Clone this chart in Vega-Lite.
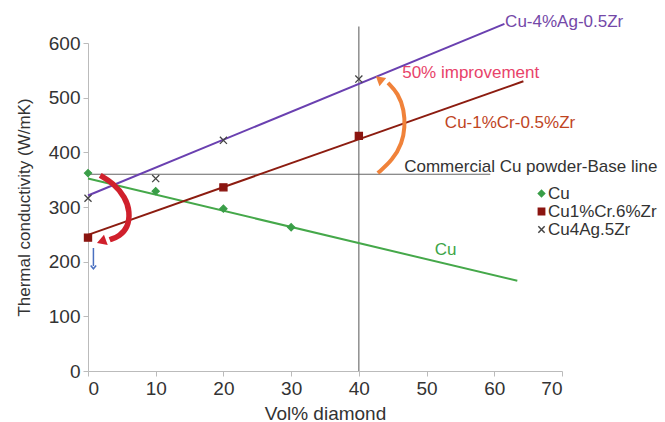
{
  "$schema": "https://vega.github.io/schema/vega-lite/v6.json",
  "width": 474,
  "height": 328,
  "autosize": "none",
  "padding": {"left": 88, "top": 43, "right": 103, "bottom": 51},
  "background": "white",
  "config": {
    "view": {"stroke": null},
    "font": "Liberation Sans",
    "axis": {
      "grid": false,
      "domainColor": "#bbbbbb",
      "tickColor": "#bbbbbb",
      "tickSize": 5,
      "labelColor": "#333333",
      "labelFontSize": 19,
      "titleColor": "#333333",
      "titleFontSize": 18,
      "titleFontWeight": "normal"
    },
    "legend": {
      "labelFontSize": 17,
      "labelColor": "#333333",
      "symbolSize": 40,
      "rowPadding": 0,
      "labelOffset": -2
    }
  },
  "datasets": {
    "points": [
      {"series": "Cu", "x": 0, "y": 362},
      {"series": "Cu", "x": 10, "y": 329},
      {"series": "Cu", "x": 20, "y": 297},
      {"series": "Cu", "x": 30, "y": 263},
      {"series": "Cu1%Cr.6%Zr", "x": 0, "y": 244},
      {"series": "Cu1%Cr.6%Zr", "x": 20, "y": 336},
      {"series": "Cu1%Cr.6%Zr", "x": 40, "y": 430},
      {"series": "Cu4Ag.5Zr", "x": 0, "y": 316},
      {"series": "Cu4Ag.5Zr", "x": 10, "y": 352},
      {"series": "Cu4Ag.5Zr", "x": 20, "y": 422},
      {"series": "Cu4Ag.5Zr", "x": 40, "y": 534}
    ],
    "trends": [
      {"series": "Cu", "x": 0, "y": 352},
      {"series": "Cu", "x": 63.4, "y": 165},
      {"series": "Cu1%Cr.6%Zr", "x": 0, "y": 249},
      {"series": "Cu1%Cr.6%Zr", "x": 64.3, "y": 530},
      {"series": "Cu4Ag.5Zr", "x": 0, "y": 321},
      {"series": "Cu4Ag.5Zr", "x": 61.5, "y": 635}
    ],
    "refs": [
      {"x": 40, "x2": 40, "y": 0, "y2": 630},
      {"x": 0, "x2": 59.4, "y": 360, "y2": 360}
    ],
    "arrows": [
      {"arrow": "orange", "o": 1, "x": 42.8, "y": 362},
      {"arrow": "orange", "o": 2, "x": 45.0, "y": 386},
      {"arrow": "orange", "o": 3, "x": 46.4, "y": 417},
      {"arrow": "orange", "o": 4, "x": 46.8, "y": 446},
      {"arrow": "orange", "o": 5, "x": 46.7, "y": 477},
      {"arrow": "orange", "o": 6, "x": 45.8, "y": 508},
      {"arrow": "orange", "o": 7, "x": 44.3, "y": 527},
      {"arrow": "red", "o": 1, "x": 1.8, "y": 358},
      {"arrow": "red", "o": 2, "x": 3.7, "y": 344},
      {"arrow": "red", "o": 3, "x": 5.5, "y": 318},
      {"arrow": "red", "o": 4, "x": 6.2, "y": 291},
      {"arrow": "red", "o": 5, "x": 5.9, "y": 263},
      {"arrow": "red", "o": 6, "x": 4.7, "y": 247},
      {"arrow": "red", "o": 7, "x": 3.2, "y": 240},
      {"arrow": "blue", "o": 1, "x": 0.8, "y": 225},
      {"arrow": "blue", "o": 2, "x": 0.8, "y": 192}
    ],
    "heads": [
      {"arrow": "orange", "x": 43.2, "y": 532},
      {"arrow": "red", "x": 2.2, "y": 238},
      {"arrow": "blue", "x": 0.8, "y": 190}
    ],
    "labels": [
      {"label": "Cu-4%Ag-0.5Zr", "x": 61.6, "y": 638},
      {"label": "50% improvement", "x": 46.4, "y": 545},
      {"label": "Cu-1%Cr-0.5%Zr", "x": 52.7, "y": 454},
      {"label": "Commercial Cu powder-Base line", "x": 46.7, "y": 373},
      {"label": "Cu", "x": 51.2, "y": 221}
    ]
  },
  "layer": [
    {
      "data": {"name": "refs"},
      "mark": {"type": "rule", "color": "#666666", "strokeWidth": 1.1},
      "encoding": {
        "x": {"field": "x", "type": "quantitative", "scale": {"domain": [0, 70], "nice": false}, "axis": {"values": [0, 10, 20, 30, 40, 50, 60, 70], "title": "Vol% diamond", "labelPadding": 3, "titlePadding": 6, "titleFontSize": 19}},
        "x2": {"field": "x2"},
        "y": {"field": "y", "type": "quantitative", "scale": {"domain": [0, 600], "nice": false}, "axis": {"values": [0, 100, 200, 300, 400, 500, 600], "title": "Thermal conductivity (W/mK)", "labelPadding": 3, "titlePadding": 15, "titleFontSize": 17}},
        "y2": {"field": "y2"}
      }
    },
    {
      "data": {"name": "trends"},
      "transform": [{"filter": "datum.series === 'Cu'"}],
      "mark": {"type": "line", "strokeWidth": 2, "color": "#45a84a"},
      "encoding": {
        "x": {"field": "x", "type": "quantitative"},
        "y": {"field": "y", "type": "quantitative"}
      }
    },
    {
      "data": {"name": "trends"},
      "transform": [{"filter": "datum.series === 'Cu1%Cr.6%Zr'"}],
      "mark": {"type": "line", "strokeWidth": 2, "color": "#8c1c10"},
      "encoding": {
        "x": {"field": "x", "type": "quantitative"},
        "y": {"field": "y", "type": "quantitative"}
      }
    },
    {
      "data": {"name": "trends"},
      "transform": [{"filter": "datum.series === 'Cu4Ag.5Zr'"}],
      "mark": {"type": "line", "strokeWidth": 2, "color": "#6a40b0"},
      "encoding": {
        "x": {"field": "x", "type": "quantitative"},
        "y": {"field": "y", "type": "quantitative"}
      }
    },
    {
      "data": {"name": "arrows"},
      "transform": [{"filter": "datum.arrow === 'orange'"}],
      "mark": {"type": "line", "interpolate": "basis", "strokeWidth": 4, "color": "#f0823a"},
      "encoding": {
        "x": {"field": "x", "type": "quantitative"},
        "y": {"field": "y", "type": "quantitative"},
        "order": {"field": "o"}
      }
    },
    {
      "data": {"name": "arrows"},
      "transform": [{"filter": "datum.arrow === 'red'"}],
      "mark": {"type": "line", "interpolate": "basis", "strokeWidth": 5.5, "color": "#d0202c"},
      "encoding": {
        "x": {"field": "x", "type": "quantitative"},
        "y": {"field": "y", "type": "quantitative"},
        "order": {"field": "o"}
      }
    },
    {
      "data": {"name": "arrows"},
      "transform": [{"filter": "datum.arrow === 'blue'"}],
      "mark": {"type": "line", "strokeWidth": 1.5, "color": "#4a70c0"},
      "encoding": {
        "x": {"field": "x", "type": "quantitative"},
        "y": {"field": "y", "type": "quantitative"},
        "order": {"field": "o"}
      }
    },
    {
      "data": {"name": "heads"},
      "transform": [{"filter": "datum.arrow === 'orange'"}],
      "mark": {"type": "point", "shape": "triangle", "filled": true, "opacity": 1, "size": 110, "angle": -50, "color": "#f0823a"},
      "encoding": {
        "x": {"field": "x", "type": "quantitative"},
        "y": {"field": "y", "type": "quantitative"}
      }
    },
    {
      "data": {"name": "heads"},
      "transform": [{"filter": "datum.arrow === 'red'"}],
      "mark": {"type": "point", "shape": "triangle", "filled": true, "opacity": 1, "size": 120, "angle": -110, "color": "#d0202c"},
      "encoding": {
        "x": {"field": "x", "type": "quantitative"},
        "y": {"field": "y", "type": "quantitative"}
      }
    },
    {
      "data": {"name": "heads"},
      "transform": [{"filter": "datum.arrow === 'blue'"}],
      "mark": {"type": "point", "shape": "M-1,-0.6L0,0.6L1,-0.6", "filled": false, "opacity": 1, "size": 30, "strokeWidth": 1.5, "color": "#4a70c0"},
      "encoding": {
        "x": {"field": "x", "type": "quantitative"},
        "y": {"field": "y", "type": "quantitative"}
      }
    },
    {
      "data": {"name": "points"},
      "mark": {"type": "point", "filled": true, "opacity": 1, "size": 50, "strokeWidth": 1.3},
      "encoding": {
        "x": {"field": "x", "type": "quantitative"},
        "y": {"field": "y", "type": "quantitative"},
        "color": {"field": "series", "type": "nominal", "scale": {"domain": ["Cu", "Cu1%Cr.6%Zr", "Cu4Ag.5Zr"], "range": ["#3a9e48", "#8b1510", "#444444"]}, "legend": {"title": null, "orient": "none", "legendX": 445, "legendY": 142, "encode": {"symbols": {"update": {"stroke": {"scale": "stroke", "field": "value"}, "strokeWidth": {"value": 1.2}}}}}},
        "stroke": {"field": "series", "type": "nominal", "scale": {"domain": ["Cu", "Cu1%Cr.6%Zr", "Cu4Ag.5Zr"], "range": ["#3a9e48", "#8b1510", "#444444"]}, "legend": null},
        "shape": {"field": "series", "type": "nominal", "scale": {"domain": ["Cu", "Cu1%Cr.6%Zr", "Cu4Ag.5Zr"], "range": ["diamond", "square", "M-1,-1L1,1M-1,1L1,-1"]}, "legend": {"title": null, "orient": "none", "legendX": 445, "legendY": 142}}
      }
    },
    {
      "data": {"name": "labels"},
      "transform": [{"filter": "datum.label === 'Cu-4%Ag-0.5Zr'"}],
      "mark": {"type": "text", "align": "left", "baseline": "middle", "fontSize": 17, "color": "#7448a8"},
      "encoding": {"x": {"field": "x", "type": "quantitative"}, "y": {"field": "y", "type": "quantitative"}, "text": {"field": "label"}}
    },
    {
      "data": {"name": "labels"},
      "transform": [{"filter": "datum.label === '50% improvement'"}],
      "mark": {"type": "text", "align": "left", "baseline": "middle", "fontSize": 17, "color": "#e8436a"},
      "encoding": {"x": {"field": "x", "type": "quantitative"}, "y": {"field": "y", "type": "quantitative"}, "text": {"field": "label"}}
    },
    {
      "data": {"name": "labels"},
      "transform": [{"filter": "datum.label === 'Cu-1%Cr-0.5%Zr'"}],
      "mark": {"type": "text", "align": "left", "baseline": "middle", "fontSize": 17, "color": "#c0451f"},
      "encoding": {"x": {"field": "x", "type": "quantitative"}, "y": {"field": "y", "type": "quantitative"}, "text": {"field": "label"}}
    },
    {
      "data": {"name": "labels"},
      "transform": [{"filter": "datum.label === 'Commercial Cu powder-Base line'"}],
      "mark": {"type": "text", "align": "left", "baseline": "middle", "fontSize": 17, "color": "#333333"},
      "encoding": {"x": {"field": "x", "type": "quantitative"}, "y": {"field": "y", "type": "quantitative"}, "text": {"field": "label"}}
    },
    {
      "data": {"name": "labels"},
      "transform": [{"filter": "datum.label === 'Cu'"}],
      "mark": {"type": "text", "align": "left", "baseline": "middle", "fontSize": 17, "color": "#3da548"},
      "encoding": {"x": {"field": "x", "type": "quantitative"}, "y": {"field": "y", "type": "quantitative"}, "text": {"field": "label"}}
    }
  ]
}
